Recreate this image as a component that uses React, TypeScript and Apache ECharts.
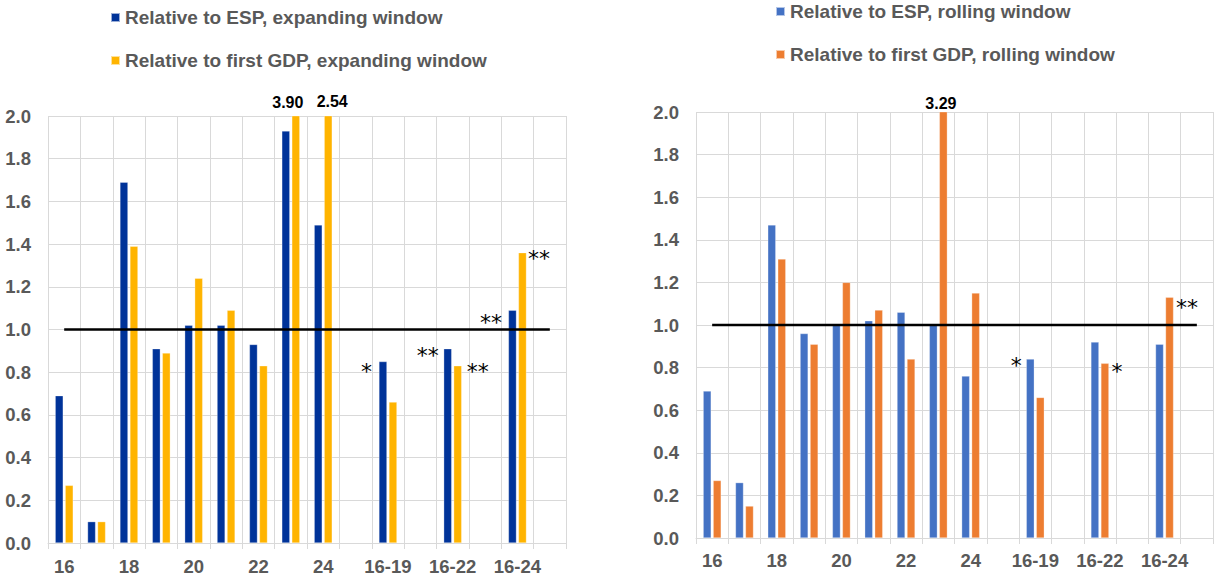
import React, { useEffect, useRef } from "react";
import * as echarts from "echarts";

// ---- data ----
const categories = ["16", "17", "18", "19", "20", "21", "22", "23", "24", "", "16-19", "", "16-22", "", "16-24", ""];
const yTicks = [0, 0.2, 0.4, 0.6, 0.8, 1.0, 1.2, 1.4, 1.6, 1.8, 2.0];

const espExpanding = [0.69, 0.10, 1.69, 0.91, 1.02, 1.02, 0.93, 1.93, 1.49, null, 0.85, null, 0.91, null, 1.09, null];
const gdpExpanding = [0.27, 0.10, 1.39, 0.89, 1.24, 1.09, 0.83, 3.90, 2.54, null, 0.66, null, 0.83, null, 1.36, null];
const espRolling = [0.69, 0.26, 1.47, 0.96, 1.00, 1.02, 1.06, 1.00, 0.76, null, 0.84, null, 0.92, null, 0.91, null];
const gdpRolling = [0.27, 0.15, 1.31, 0.91, 1.20, 1.07, 0.84, 3.29, 1.15, null, 0.66, null, 0.82, null, 1.13, null];
const benchmark = [1, 1, 1, 1, 1, 1, 1, 1, 1, 1, 1, 1, 1, 1, 1, 1];

const espExpandingStars = ["", "", "", "", "", "", "", "", "", "", "*", "", "**", "", "**", ""];
const gdpExpandingStars = ["", "", "", "", "", "", "", "", "", "", "", "", "**", "", "**", ""];
const espRollingStars = ["", "", "", "", "", "", "", "", "", "", "*", "", "", "", "", ""];
const gdpRollingStars = ["", "", "", "", "", "", "", "", "", "", "", "", "*", "", "**", ""];

const names = {
  espExp: "Relative to ESP, expanding window",
  gdpExp: "Relative to first GDP, expanding window",
  espRol: "Relative to ESP, rolling window",
  gdpRol: "Relative to first GDP, rolling window",
};

// ---- styles ----
const GRAY = "#595959";
const GRID = "#d9d9d9";
const FONT = "'Liberation Sans', Arial, sans-serif";
const AXIS_MAX = 2;

// label placement offsets (relative to the bar's top-left corner)
const starOffsets: Record<string, [number, number]> = {
  "espExp-10": [-12.5, 10],
  "espExp-12": [-16, 7],
  "gdpExp-12": [24, 6],
  "espExp-14": [-17.5, 12.5],
  "gdpExp-14": [20.5, 6],
  "espRol-10": [-10, 6],
  "gdpRol-12": [16, 8],
  "gdpRol-14": [21.5, 10],
};
const bigOffsets: Record<string, [number, number]> = {
  "gdpExp-7": [-4, -5.5],
  "gdpExp-8": [8, -6.5],
  "gdpRol-7": [1.5, -0.5],
};

function buildData(key: string, values: (number | null)[], stars: string[]) {
  return values.map((v, i) => {
    if (v === null) return null;
    const id = key + "-" + i;
    if (v > AXIS_MAX) {
      const off = bigOffsets[id] || [4, -6];
      return {
        value: v,
        label: {
          show: true,
          formatter: v.toFixed(2),
          position: off,
          align: "center",
          verticalAlign: "bottom",
          fontSize: 16,
          fontWeight: "bold",
          fontFamily: FONT,
          color: "#000",
        },
      };
    }
    if (stars[i]) {
      const off = starOffsets[id] || [0, 0];
      return {
        value: v,
        label: {
          show: true,
          formatter: stars[i],
          position: off,
          align: "center",
          verticalAlign: "middle",
          fontSize: 22,
          fontFamily: "'DejaVu Sans', sans-serif",
          color: "#000",
        },
      };
    }
    return v;
  });
}

function xAxis(gridIndex: number, margin: number) {
  return {
    type: "category",
    gridIndex,
    data: categories,
    boundaryGap: true,
    axisLine: { show: true, lineStyle: { color: GRID, width: 1 } },
    axisTick: { show: true, interval: 0, length: 6, lineStyle: { color: GRID } },
    axisLabel: {
      interval: 1,
      color: GRAY,
      fontSize: 18.5,
      fontWeight: "bold",
      fontFamily: FONT,
      margin,
    },
    splitLine: { show: true, interval: 0, lineStyle: { color: GRID, width: 1 } },
  };
}

function yAxis(gridIndex: number) {
  return {
    type: "value",
    gridIndex,
    min: yTicks[0],
    max: yTicks[yTicks.length - 1],
    interval: 0.2,
    axisLine: { show: false },
    axisTick: { show: false },
    axisLabel: {
      formatter: (v: number) => v.toFixed(1),
      color: GRAY,
      fontSize: 18.5,
      fontWeight: "bold",
      fontFamily: FONT,
      margin: 17,
    },
    splitLine: { show: true, lineStyle: { color: GRID, width: 1 } },
  };
}

function barSeries(name: string, key: string, idx: number, values: (number | null)[], stars: string[], color: string) {
  return {
    type: "bar",
    name,
    xAxisIndex: idx,
    yAxisIndex: idx,
    data: buildData(key, values, stars),
    barWidth: 8,
    barGap: "25%",
    itemStyle: { color, borderColor: "rgba(255,255,255,0.6)", borderWidth: 0.5 },
    clip: true,
    z: 2,
  };
}

function lineSeries(idx: number) {
  return {
    type: "line",
    name: "benchmark" + idx,
    xAxisIndex: idx,
    yAxisIndex: idx,
    data: benchmark,
    symbol: "none",
    lineStyle: { color: "#000", width: 2.5 },
    z: 5,
    silent: true,
  };
}

function legend(data: string[], left: number, top: number) {
  return {
    data,
    orient: "vertical",
    left,
    top,
    padding: 0,
    icon: "rect",
    itemWidth: 9,
    itemHeight: 9,
    itemGap: 24,
    selectedMode: false,
    textStyle: { color: GRAY, fontSize: 19, fontWeight: "bold", fontFamily: FONT },
  };
}

export default function App() {
  const ref = useRef<HTMLDivElement>(null);
  useEffect(() => {
    if (!ref.current) return;
    const chart = echarts.init(ref.current, null, { renderer: "svg" });
    chart.setOption({
      animation: false,
      backgroundColor: "#fff",
      textStyle: { fontFamily: FONT },
      legend: [
        legend([names.espExp, names.gdpExp], 110, 8),
        legend([names.espRol, names.gdpRol], 775, 2),
      ],
      grid: [
        { left: 48, top: 116, width: 518, height: 427 },
        { left: 696, top: 112, width: 517, height: 426 },
      ],
      xAxis: [xAxis(0, 14), xAxis(1, 13)],
      yAxis: [yAxis(0), yAxis(1)],
      series: [
        barSeries(names.espExp, "espExp", 0, espExpanding, espExpandingStars, "#003399"),
        barSeries(names.gdpExp, "gdpExp", 0, gdpExpanding, gdpExpandingStars, "#FFB400"),
        lineSeries(0),
        barSeries(names.espRol, "espRol", 1, espRolling, espRollingStars, "#4472C4"),
        barSeries(names.gdpRol, "gdpRol", 1, gdpRolling, gdpRollingStars, "#ED7D31"),
        lineSeries(1),
      ],
    });
    return () => chart.dispose();
  }, []);
  return (
    <div
      ref={ref}
      style={{ position: "fixed", left: 0, top: 0, width: 1214, height: 576, background: "#fff" }}
    />
  );
}
